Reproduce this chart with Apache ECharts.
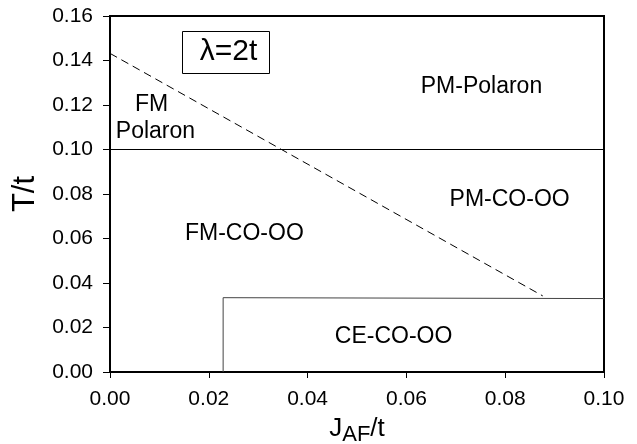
<!DOCTYPE html>
<html><head><meta charset="utf-8">
<script src="https://cdn.jsdelivr.net/npm/echarts@6/dist/echarts.min.js"></script>
<style>html,body{margin:0;padding:0;background:#fff}#c{width:637px;height:444px}</style>
</head><body><div id="c"></div>
<script>
// Phase boundaries (J_AF/t, T/t)
const polaronLine = [[0, 0.10], [0.10, 0.10]];
const dashedBoundary = [[0, 0.1432], [0.0876, 0.0342]];
const ceBoundary = [[0.0229, 0], [0.0229, 0.0334], [0.10, 0.0330]];
// Region labels: [x, y, text]
const regionLabels = [
  [0.0084, 0.1200, 'FM'],
  [0.0092, 0.1080, 'Polaron'],
  [0.0752, 0.1282, 'PM-Polaron'],
  [0.0809, 0.0776, 'PM-CO-OO'],
  [0.0272, 0.0623, 'FM-CO-OO'],
  [0.0574, 0.0159, 'CE-CO-OO']
];
const xTicks = [0, 0.02, 0.04, 0.06, 0.08, 0.10];
const yTicks = [0, 0.02, 0.04, 0.06, 0.08, 0.10, 0.12, 0.14, 0.16];

const chart = echarts.init(document.getElementById('c'));
const font = 'Liberation Sans, Arial, sans-serif';
const lineSeries = (data, type, color) => ({
  type: 'line', data: data, symbol: 'none', silent: true, animation: false,
  lineStyle: {color: color || '#000', width: 1, type: type || 'solid'}
});
chart.setOption({
  animation: false,
  grid: {left: 110, right: 33, top: 16, bottom: 72, show: true, borderColor: '#000', borderWidth: 2,
    backgroundColor: 'transparent', containLabel: false, outerBoundsMode: 'none'},
  xAxis: {
    type: 'value', min: 0, max: 0.10, interval: 0.02,
    axisLine: {show: true, onZero: false, lineStyle: {color: '#000', width: 2}},
    axisTick: {show: true, inside: false, length: 6, lineStyle: {color: '#000', width: 1}},
    splitLine: {show: false},
    axisLabel: {fontSize: 21, color: '#000', fontFamily: font, margin: 17,
      formatter: v => v.toFixed(2)},
    name: 'J{sub|AF}/t', nameLocation: 'middle', nameGap: 40,
    nameTextStyle: {fontSize: 26, color: '#000', fontFamily: font,
      rich: {sub: {fontSize: 22, color: '#000', fontFamily: font, padding: [12, 0, 0, 0]}}}
  },
  yAxis: {
    type: 'value', min: 0, max: 0.16, interval: 0.02,
    axisLine: {show: true, onZero: false, lineStyle: {color: '#000', width: 2}},
    axisTick: {show: true, inside: false, length: 7, lineStyle: {color: '#000', width: 1}},
    splitLine: {show: false},
    axisLabel: {fontSize: 21, color: '#000', fontFamily: font, margin: 17,
      formatter: v => v.toFixed(2)},
    name: 'T/t', nameLocation: 'middle', nameGap: 60, nameRotate: 90,
    nameTextStyle: {fontSize: 31, color: '#000', fontFamily: font}
  },
  graphic: [{
    type: 'group', left: 182, top: 31,
    children: [
      {type: 'rect', shape: {x: 0, y: 0, width: 87, height: 42}, style: {fill: '#fff', stroke: '#000', lineWidth: 1}},
      {type: 'text', x: 46, y: 20, style: {text: 'λ=2t', fontSize: 30, fontFamily: font, fill: '#000', align: 'center', verticalAlign: 'middle'}}
    ]
  }],
  series: [
    lineSeries(polaronLine),
    lineSeries(dashedBoundary, [8, 5]),
    lineSeries(ceBoundary, 'solid', '#444'),
    {
      type: 'scatter', symbolSize: 0, silent: true, animation: false,
      itemStyle: {opacity: 1, color: '#000'},
      data: regionLabels.map(d => ({value: [d[0], d[1]], name: d[2]})),
      label: {show: true, position: 'inside', formatter: p => p.name, fontSize: 23, color: '#000', opacity: 1,
        fontFamily: font, textBorderWidth: 0, align: 'center', verticalAlign: 'middle'}
    }
  ]
});
</script></body></html>
